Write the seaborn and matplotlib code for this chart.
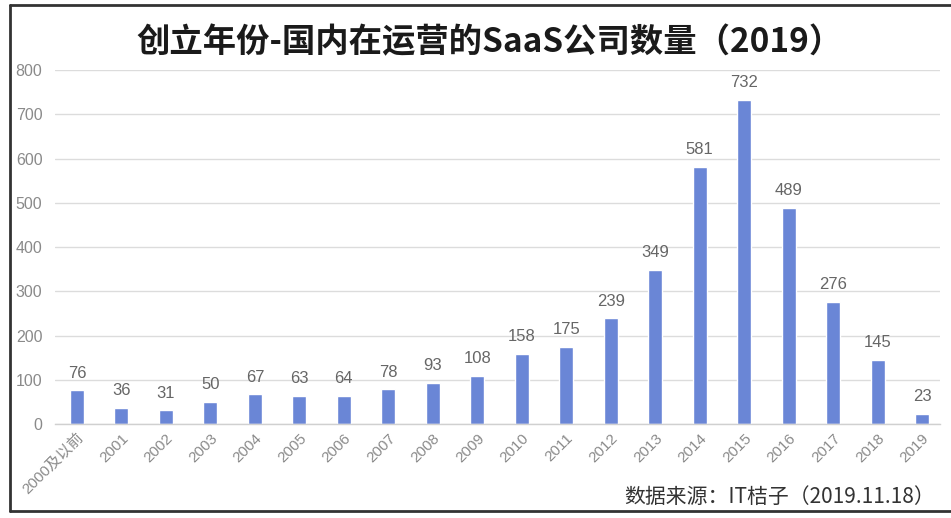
import matplotlib
matplotlib.use("Agg")
import matplotlib.pyplot as plt
from matplotlib.lines import Line2D
import seaborn as sns
import pandas as pd

years = ["2000及以前", "2001", "2002", "2003", "2004", "2005", "2006", "2007",
         "2008", "2009", "2010", "2011", "2012", "2013", "2014", "2015",
         "2016", "2017", "2018", "2019"]
counts = [76, 36, 31, 50, 67, 63, 64, 78, 93, 108, 158, 175, 239, 349,
          581, 732, 489, 276, 145, 23]
y_ticks = [0, 100, 200, 300, 400, 500, 600, 700, 800]

title = "创立年份-国内在运营的SaaS公司数量（2019）"
source = "数据来源：IT桔子（2019.11.18）"

sns.set_theme(style="white")
plt.rcParams["font.family"] = ["Noto Sans CJK SC", "DejaVu Sans"]
num_font = ["Liberation Sans", "Noto Sans CJK SC"]

df = pd.DataFrame({"year": years, "count": counts})

W, H = 951, 518
fig = plt.figure(figsize=(W / 100, H / 100), dpi=100)
ax = fig.add_axes([55 / W, 94 / H, (940 - 55) / W, (424 - 70) / H])

sns.barplot(data=df, x="year", y="count", color="#6a86d6", width=0.315,
            saturation=1, ax=ax)

n = len(years)
ax.set_xlim(-0.495, n - 1 + 0.405)
ax.set_ylim(0, 800)
ax.set_yticks(y_ticks)
ax.set_yticklabels([str(v) for v in y_ticks], family=num_font)
ax.yaxis.grid(True, color="#dcdcdc", linewidth=1)
ax.set_axisbelow(True)
for s in ["left", "right", "top"]:
    ax.spines[s].set_visible(False)
ax.spines["bottom"].set_color("#d0d0d0")
ax.spines["bottom"].set_linewidth(1)
ax.set_xlabel("")
ax.set_ylabel("")
ax.tick_params(axis="y", length=0, pad=9, labelsize=11.5, labelcolor="#8a8a8a")
ax.tick_params(axis="x", length=0, pad=5, labelsize=11, labelcolor="#8a8a8a")
plt.setp(ax.get_xticklabels(), rotation=45, ha="right", rotation_mode="anchor",
         family=num_font)

ax.bar_label(ax.containers[0], labels=[str(v) for v in counts], padding=7,
             fontsize=12, color="#666666", family=num_font)

fig.text(490 / W, 1 - 43 / H, title, ha="center", va="center",
         fontsize=24, fontweight="bold", color="#1a1a1a")
fig.text(935 / W, 1 - 497 / H, source, ha="right", va="center",
         fontsize=15, color="#333333")

# page frame: left, top and bottom rules
frame = dict(color="#333333", linewidth=2, transform=fig.transFigure)
fig.add_artist(Line2D([10 / W, 10 / W], [1 - 5 / H, 1 - 511 / H], **frame))
fig.add_artist(Line2D([10 / W, 1], [1 - 5 / H, 1 - 5 / H], **frame))
fig.add_artist(Line2D([10 / W, 1], [1 - 511 / H, 1 - 511 / H], **frame))

fig.savefig("out.png", dpi=100, facecolor="white")
